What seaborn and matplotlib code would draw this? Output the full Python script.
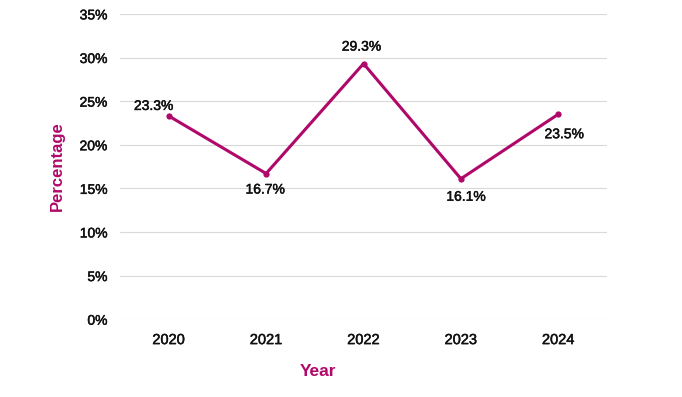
import pandas as pd
import matplotlib
matplotlib.use("Agg")
import matplotlib.pyplot as plt
import matplotlib.patheffects as pe
import seaborn as sns

years = ["2020", "2021", "2022", "2023", "2024"]
percentages = [23.3, 16.7, 29.3, 16.1, 23.5]
# label offsets from the point, in pixels
label_dx = [-15, -1, -2, 5, 6]
label_dy = [10, -16, 17, -18, -20]
y_ticks = [0, 5, 10, 15, 20, 25, 30, 35]

color = "#B0086A"
text_color = "#111111"
heavy = [pe.withStroke(linewidth=0.35, foreground=text_color)]

sns.set_style("white")
plt.rcParams["font.family"] = ["Liberation Sans", "DejaVu Sans"]

df = pd.DataFrame({"Year": years, "Percentage": percentages})

fig = plt.figure(figsize=(6.82, 3.97), dpi=100)
ax = fig.add_axes([0.176, 0.196, 0.714, 0.769])

sns.lineplot(data=df, x="Year", y="Percentage", ax=ax, color=color,
             linewidth=2.2, marker="o", markersize=4.5, markeredgewidth=0)

for i, v in enumerate(percentages):
    ax.annotate(f"{v}%", (i, v), xytext=(label_dx[i], label_dy[i]),
                textcoords="offset pixels", ha="center", va="center",
                fontsize=10, color=text_color, path_effects=heavy)

ax.set_xlim(-0.5, len(years) - 0.5)
ax.set_ylim(0, 35)
ax.set_yticks(y_ticks)
ax.set_yticklabels([f"{t}%" for t in y_ticks], fontsize=10)
ax.set_xticks(range(len(years)))
ax.set_xticklabels(years, fontsize=10.5)
for lab in ax.get_xticklabels() + ax.get_yticklabels():
    lab.set_path_effects(heavy)
ax.grid(axis="y", color="#d9d9d9", linewidth=0.8)
ax.set_axisbelow(True)
for s in ax.spines.values():
    s.set_visible(False)
ax.tick_params(axis="both", length=0, colors=text_color)
ax.tick_params(axis="y", pad=9)
ax.tick_params(axis="x", pad=10)
ax.set_xlabel("")
ax.set_ylabel("")

fig.text(318 / 682, 1 - 371 / 397, "Year", ha="center", va="center",
         fontsize=12.5, fontweight="bold", color=color)
fig.text(57 / 682, 1 - 166 / 397, "Percentage", ha="center", va="center",
         rotation=90, fontsize=12, fontweight="bold", color=color)

fig.savefig("out.png", dpi=100)
